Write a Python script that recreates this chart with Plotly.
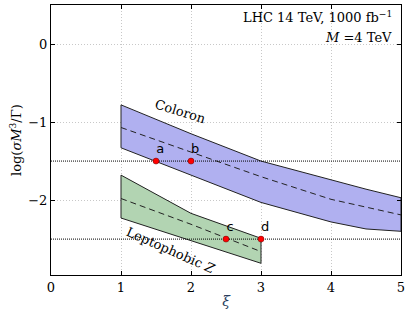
import plotly.graph_objects as go

# Coloron band
col_x = [1, 2, 3, 4, 4.5, 5]
col_upper = [-0.78, -1.15, -1.50, -1.74, -1.86, -1.97]
col_lower = [-1.33, -1.68, -2.03, -2.28, -2.37, -2.40]
col_mid_x = [1, 2, 3, 4, 5]
col_mid = [-1.07, -1.38, -1.70, -1.99, -2.19]

# Leptophobic Z band
lz_x = [1, 2, 3]
lz_upper = [-1.68, -2.17, -2.49]
lz_lower = [-2.23, -2.52, -2.81]
lz_mid = [-1.98, -2.31, -2.66]

# benchmark points
pt_x = [1.5, 2.0, 2.5, 3.0]
pt_y = [-1.5, -1.5, -2.5, -2.5]
pt_labels = ["a", "b", "c", "d"]

ref_levels = [-1.5, -2.5]
x_ticks = [0, 1, 2, 3, 4, 5]
y_ticks = [0, -1, -2]
y_ticktext = ["0", "−1", "−2"]

serif = "DejaVu Serif"
fig = go.Figure()

def band(x, up, lo, fill):
    fig.add_trace(go.Scatter(x=x + x[::-1], y=up + lo[::-1], mode="lines", fill="toself",
                             fillcolor=fill, line=dict(color="rgba(0,0,0,0)", width=0),
                             hoverinfo="skip", showlegend=False))
    fig.add_trace(go.Scatter(x=x, y=up, mode="lines", line=dict(color="#222", width=1), showlegend=False))
    fig.add_trace(go.Scatter(x=x, y=lo, mode="lines", line=dict(color="#222", width=1), showlegend=False))
    fig.add_trace(go.Scatter(x=[x[0], x[0]], y=[up[0], lo[0]], mode="lines", line=dict(color="#222", width=1), showlegend=False))
    fig.add_trace(go.Scatter(x=[x[-1], x[-1]], y=[up[-1], lo[-1]], mode="lines", line=dict(color="#222", width=1), showlegend=False))

band(col_x, col_upper, col_lower, "rgb(176,176,240)")
band(lz_x, lz_upper, lz_lower, "rgb(178,212,178)")

fig.add_trace(go.Scatter(x=col_mid_x, y=col_mid, mode="lines", line=dict(color="#222", width=1, dash="6px,4px"), showlegend=False))
fig.add_trace(go.Scatter(x=lz_x, y=lz_mid, mode="lines", line=dict(color="#222", width=1, dash="6px,4px"), showlegend=False))

for lv in ref_levels:
    fig.add_trace(go.Scatter(x=[0, 5], y=[lv, lv], mode="lines", line=dict(color="black", width=1, dash="1px,1px"), showlegend=False))

fig.add_trace(go.Scatter(x=pt_x, y=pt_y, mode="markers+text", text=["  " + s for s in pt_labels],
                         textposition="top center",
                         textfont=dict(family="DejaVu Sans", size=13, color="black"),
                         marker=dict(color="red", size=6, line=dict(color="#600", width=0.5)), showlegend=False))

fig.add_annotation(x=1.85, y=-0.87, text="Coloron", showarrow=False, textangle=17,
                   font=dict(family=serif, size=13, color="black"))
fig.add_annotation(x=1.72, y=-2.64, text="Leptophobic <i>Z</i>", showarrow=False, textangle=24,
                   font=dict(family=serif, size=13, color="black"))
fig.add_annotation(x=4.9, y=0.35, text="LHC 14 TeV, 1000 fb<sup>−1</sup>", showarrow=False, xanchor="right",
                   font=dict(family=serif, size=13, color="black"))
fig.add_annotation(x=4.9, y=0.08, text="<i>M</i> =4 TeV", showarrow=False, xanchor="right",
                   font=dict(family=serif, size=13, color="black"))
fig.add_annotation(xref="paper", yref="paper", x=-0.1, y=0.5, text="log(<i>σM</i><sup>3</sup>/Γ)",
                   showarrow=False, textangle=-90, xanchor="center", yanchor="middle",
                   font=dict(family=serif, size=13, color="black"))

axis_common = dict(showline=True, linecolor="black", linewidth=1, mirror="ticks", ticks="inside",
                   ticklen=4, tickcolor="black", showgrid=True, gridcolor="#c8c8c8", griddash="1px,2px",
                   gridwidth=1, zeroline=False, automargin=False,
                   tickfont=dict(family=serif, size=13, color="black"))
fig.update_xaxes(range=[0, 5], tickvals=x_ticks, title=dict(text="<i>ξ</i>", font=dict(family=serif, size=14), standoff=2),
                 **axis_common)
fig.update_yaxes(range=[-2.96, 0.5], tickvals=y_ticks, ticktext=y_ticktext, **axis_common)
fig.update_layout(width=411, height=316, margin=dict(l=51, r=10, t=5, b=41),
                  paper_bgcolor="white", plot_bgcolor="white")
fig.write_html("out.html", config={"displayModeBar": False},
               post_script="document.body.style.margin='0';document.body.style.overflow='hidden';")
